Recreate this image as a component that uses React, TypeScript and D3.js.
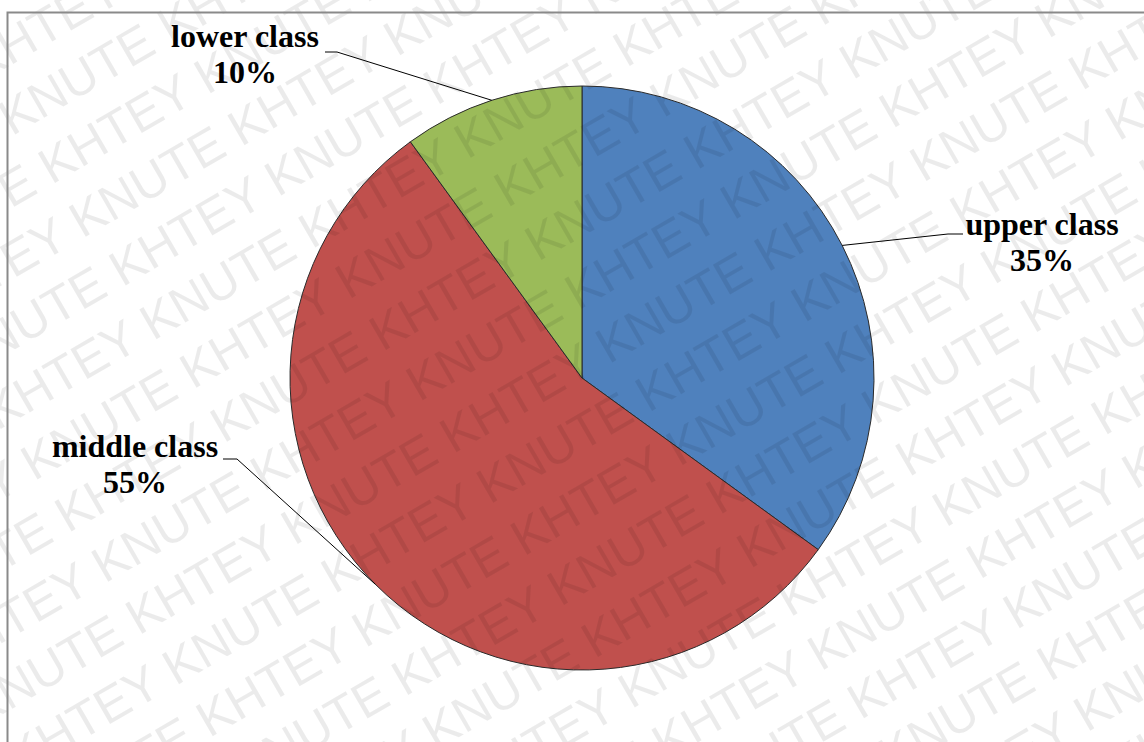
import React from "react";
import * as d3 from "d3";

const categories = ["upper class", "middle class", "lower class"];
const values = [35, 55, 10];
const percentLabels = ["35%", "55%", "10%"];
const colors = ["#4F81BD", "#C0504D", "#9BBB59"];

// label layout (text anchor point = centre of the label block, first baseline)
const labelLayout = [
  { x: 1042, y: 235, elbowX: 948, endX: 963, endY: 234 },
  { x: 135, y: 457, elbowX: 237, endX: 223, endY: 459 },
  { x: 245, y: 47, elbowX: 337, endX: 325, endY: 52 },
];

const W = 1144;
const H = 742;
const CX = 582;
const CY = 378;
const R = 292;

const watermarkWord = "KHTEY KNUTE ";

export default function App() {
  const pie = d3
    .pie<number>()
    .sort(null)
    .startAngle(0)
    .endAngle(2 * Math.PI)(values);
  const arc = d3.arc<d3.PieArcDatum<number>>().innerRadius(0).outerRadius(R);

  const rows = d3.range(-16, 36);
  const longText = d3.range(14).map(() => watermarkWord).join("");

  return (
    <svg
      width={W}
      height={H}
      style={{ position: "absolute", left: 0, top: 0, background: "#fff" }}
    >
      <defs>
        <clipPath id="area">
          <rect x={8} y={13} width={W - 8} height={H - 13} />
        </clipPath>
      </defs>
      <rect x={0} y={0} width={W} height={H} fill="#fff" />
      <g transform={`translate(${CX},${CY})`}>
        {pie.map((d, i) => (
          <path key={i} d={arc(d) || ""} fill={colors[i]} stroke="#2b2b2b" strokeWidth={1} />
        ))}
      </g>
      {pie.map((d, i) => {
        const mid = (d.startAngle + d.endAngle) / 2;
        const px = CX + R * Math.sin(mid);
        const py = CY - R * Math.cos(mid);
        const L = labelLayout[i];
        const pts: [number, number][] = [
          [px, py],
          [L.elbowX, L.endY],
          [L.endX, L.endY],
        ];
        return (
          <path
            key={"l" + i}
            d={d3.line()(pts) || ""}
            fill="none"
            stroke="#000"
            strokeWidth={1}
          />
        );
      })}
      {/* watermark */}
      <g transform="rotate(-30)" style={{ pointerEvents: "none" }}>
        {rows.map((r) => (
          <text
            key={r}
            x={-1700 + ((((r * 190) % 370) + 370) % 370)}
            y={r * 62}
            fontFamily="Liberation Sans, Arial, sans-serif"
            fontSize={50}
            fill="#000"
            fillOpacity={0.08}
          >
            {longText}
          </text>
        ))}
      </g>
      {/* frame */}
      <path d={`M7.5,${H} V12.5 H${W}`} fill="none" stroke="#8a8a8a" strokeWidth={2} />
      {categories.map((c, i) => {
        const L = labelLayout[i];
        return (
          <text
            key={"t" + i}
            x={L.x}
            y={L.y}
            textAnchor="middle"
            fontFamily="Liberation Serif, Times New Roman, serif"
            fontWeight="bold"
            fontSize={32}
            fill="#000"
          >
            <tspan x={L.x} y={L.y}>{c}</tspan>
            <tspan x={L.x} y={L.y + 36}>{percentLabels[i]}</tspan>
          </text>
        );
      })}
    </svg>
  );
}
